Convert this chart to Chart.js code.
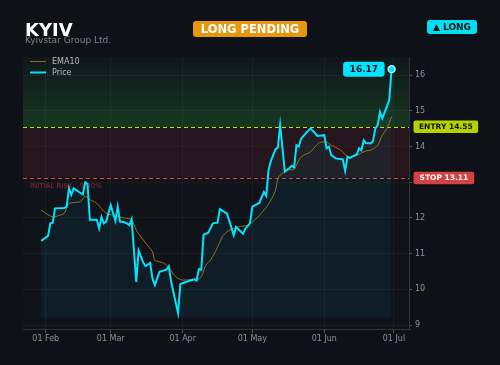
<!DOCTYPE html>
<html><head><meta charset="utf-8">
<script src="https://cdn.jsdelivr.net/npm/chart.js@4.4.1/dist/chart.umd.min.js"></script>
<style>
html,body{margin:0;padding:0;background:#0e1117;}
#wrap{position:relative;width:500px;height:365px;overflow:hidden;background:#0e1117;}
#c{position:absolute;left:0;top:0;}
.t{position:absolute;font-family:"DejaVu Sans",sans-serif;white-space:nowrap;}
.badge{position:absolute;font-family:"DejaVu Sans",sans-serif;font-weight:bold;white-space:nowrap;border-radius:3px;text-align:center;}
</style></head><body>
<div id="wrap">
<canvas id="c" width="500" height="365"></canvas>
<div class="t" style="left:25px;top:21px;font-size:18px;line-height:18px;font-weight:bold;color:#ffffff;">KYIV</div>
<div class="t" style="left:25px;top:36px;font-size:9px;line-height:9px;color:#7c828c;">Kyivstar Group Ltd.</div>
<div class="badge" style="left:193px;top:21px;width:114px;height:16px;line-height:16px;font-size:11.5px;background:#e8960c;color:#ffffff;">LONG PENDING</div>
<div class="badge" style="left:427px;top:20px;width:50px;height:14px;line-height:14px;font-size:9px;background:#00e0f0;color:#0e1117;">▲ LONG</div>
</div>
<script>
// ---- data ----
const priceDates = ['2025-01-30','2025-02-02','2025-02-03','2025-02-04','2025-02-05','2025-02-09','2025-02-10','2025-02-11','2025-02-12','2025-02-13',
'2025-02-16','2025-02-17','2025-02-18','2025-02-19','2025-02-20','2025-02-23','2025-02-24','2025-02-25','2025-02-26','2025-02-27',
'2025-03-01','2025-03-03','2025-03-04','2025-03-05','2025-03-07','2025-03-08','2025-03-09','2025-03-10','2025-03-12','2025-03-13',
'2025-03-15','2025-03-16','2025-03-18','2025-03-19','2025-03-20','2025-03-22','2025-03-25','2025-03-26','2025-03-27','2025-03-30',
'2025-03-31','2025-04-02','2025-04-06','2025-04-07','2025-04-08','2025-04-09','2025-04-10','2025-04-12','2025-04-14','2025-04-16',
'2025-04-17','2025-04-20','2025-04-21','2025-04-23','2025-04-24','2025-04-27','2025-04-28','2025-04-30','2025-05-01','2025-05-04',
'2025-05-06','2025-05-07','2025-05-08','2025-05-09','2025-05-11','2025-05-12','2025-05-13','2025-05-15','2025-05-17','2025-05-18',
'2025-05-19','2025-05-20','2025-05-21','2025-05-22','2025-05-24','2025-05-26','2025-05-28','2025-05-29','2025-06-01','2025-06-02',
'2025-06-03','2025-06-04','2025-06-06','2025-06-09','2025-06-10','2025-06-11','2025-06-12','2025-06-13','2025-06-15','2025-06-16',
'2025-06-17','2025-06-18','2025-06-19','2025-06-21','2025-06-22','2025-06-23','2025-06-24','2025-06-25','2025-06-26','2025-06-29','2025-06-30'];
const priceValues = [11.36,11.50,11.85,11.87,12.27,12.28,12.31,12.83,12.65,12.83,
12.70,12.66,13.00,12.95,11.95,11.95,11.71,12.03,11.85,11.90,
12.36,11.92,12.32,11.90,11.88,11.85,11.80,11.96,10.21,11.09,
10.75,10.65,10.74,10.30,10.12,10.49,10.55,10.65,10.22,9.34,
10.15,10.20,10.28,10.25,10.57,10.55,11.53,11.59,11.85,11.87,
12.25,12.13,11.94,11.52,11.75,11.56,11.70,11.85,12.32,12.42,
12.73,12.62,13.35,13.60,13.93,13.97,14.60,13.30,13.40,13.46,
13.42,14.04,14.00,14.22,14.37,14.51,14.38,14.30,14.32,13.95,
14.00,13.76,13.67,13.64,13.32,13.71,13.68,13.72,13.78,13.95,
13.90,14.18,14.10,14.09,14.15,14.51,14.60,14.97,14.79,15.30,16.17];
const emaDates = ['2025-01-30','2025-02-04','2025-02-07','2025-02-09','2025-02-11','2025-02-16','2025-02-18','2025-02-20','2025-02-23','2025-02-27',
'2025-03-02','2025-03-05','2025-03-07','2025-03-10','2025-03-12','2025-03-16','2025-03-19','2025-03-20','2025-03-24','2025-03-27',
'2025-03-28','2025-03-30','2025-04-01','2025-04-05','2025-04-07','2025-04-09','2025-04-11','2025-04-13','2025-04-16','2025-04-18',
'2025-04-19','2025-04-21','2025-04-25','2025-04-29','2025-05-02','2025-05-06','2025-05-09','2025-05-11','2025-05-12','2025-05-13',
'2025-05-16','2025-05-19','2025-05-20','2025-05-22','2025-05-26','2025-05-28','2025-05-30','2025-06-02','2025-06-04','2025-06-08',
'2025-06-11','2025-06-13','2025-06-15','2025-06-19','2025-06-21','2025-06-24','2025-06-26','2025-06-28','2025-06-30'];
const emaValues = [12.22,12.03,12.08,12.13,12.40,12.46,12.61,12.52,12.41,12.13,
12.08,12.03,12.00,11.96,11.66,11.30,11.05,10.82,10.73,10.54,
10.42,10.31,10.26,10.28,10.27,10.35,10.68,10.82,11.18,11.47,
11.55,11.66,11.75,11.80,11.94,12.22,12.50,12.78,13.11,13.20,
13.34,13.36,13.48,13.71,13.85,13.99,14.11,14.13,14.04,13.90,
13.73,13.71,13.76,13.88,13.90,14.04,14.32,14.51,14.84];
const monthTickDates = ['2025-02-01','2025-03-01','2025-04-01','2025-05-01','2025-06-01','2025-07-01'];
const monthTickLabels = ['01 Feb','01 Mar','01 Apr','01 May','01 Jun','01 Jul'];
const yTickValues = [9,10,11,12,13,14,15,16];
const ENTRY = 14.55;
const STOP = 13.11;
const LAST = 16.17;
const RISK_TEXT = 'INITIAL RISK: -9.90%';

// ---- helpers ----
const base = Date.UTC(2025,0,1);
const dayOf = s => (Date.parse(s + 'T00:00:00Z') - base) / 86400000;
const priceData = priceDates.map((d,i)=>({x:dayOf(d), y:priceValues[i]}));
const emaData = emaDates.map((d,i)=>({x:dayOf(d), y:emaValues[i]}));
const monthTicks = monthTickDates.map(dayOf);
const FONT = '"DejaVu Sans", sans-serif';
const CYAN = '#00e5ff';

function rrect(ctx,x,y,w,h,r){
  ctx.beginPath();
  ctx.moveTo(x+r,y);ctx.lineTo(x+w-r,y);ctx.quadraticCurveTo(x+w,y,x+w,y+r);
  ctx.lineTo(x+w,y+h-r);ctx.quadraticCurveTo(x+w,y+h,x+w-r,y+h);
  ctx.lineTo(x+r,y+h);ctx.quadraticCurveTo(x,y+h,x,y+h-r);
  ctx.lineTo(x,y+r);ctx.quadraticCurveTo(x,y,x+r,y);ctx.closePath();
}

const overlay = {
  id:'overlay',
  beforeDraw(chart){
    const {ctx, chartArea:a, scales:{y}} = chart;
    const yE = y.getPixelForValue(ENTRY), yS = y.getPixelForValue(STOP);
    ctx.save();
    ctx.fillStyle = 'rgba(255,255,255,0.012)';
    ctx.fillRect(a.left,a.top,a.right-a.left,a.bottom-a.top);
    const g = ctx.createLinearGradient(0,a.top,0,yE);
    g.addColorStop(0,'rgba(40,170,60,0.02)');
    g.addColorStop(1,'rgba(40,170,60,0.24)');
    ctx.fillStyle = g;
    ctx.fillRect(a.left,a.top,a.right-a.left,yE-a.top);
    ctx.fillStyle = 'rgba(215,50,60,0.10)';
    ctx.fillRect(a.left,yE,a.right-a.left,yS-yE);
    ctx.restore();
  },
  beforeDatasetsDraw(chart){
    const {ctx, chartArea:a, scales:{y}} = chart;
    const yE = Math.round(y.getPixelForValue(ENTRY))+0.5, yS = Math.round(y.getPixelForValue(STOP))+0.5;
    ctx.save();
    ctx.setLineDash([4,3]);
    ctx.lineWidth = 1;
    ctx.strokeStyle = '#cbe000';
    ctx.beginPath();ctx.moveTo(a.left,yE);ctx.lineTo(a.right,yE);ctx.stroke();
    ctx.strokeStyle = '#dc4444';
    ctx.beginPath();ctx.moveTo(a.left,yS);ctx.lineTo(a.right,yS);ctx.stroke();
    ctx.setLineDash([]);
    ctx.font = '7px ' + FONT;
    ctx.fillStyle = 'rgba(200,55,60,0.7)';
    ctx.textBaseline = 'alphabetic';
    ctx.textAlign = 'left';
    ctx.fillText(RISK_TEXT, a.left+7, yS+9);
    ctx.restore();
  },
  afterDraw(chart){
    const {ctx, chartArea:a, scales:{x,y}} = chart;
    ctx.save();
    // legend
    ctx.lineWidth = 1;
    ctx.strokeStyle = 'rgba(170,120,25,0.85)';
    ctx.beginPath();ctx.moveTo(30,61.5);ctx.lineTo(46,61.5);ctx.stroke();
    ctx.lineWidth = 2;
    ctx.strokeStyle = CYAN;
    ctx.beginPath();ctx.moveTo(30,72.5);ctx.lineTo(46,72.5);ctx.stroke();
    ctx.font = '8px ' + FONT;
    ctx.fillStyle = '#b4b9c2';
    ctx.textAlign = 'left';
    ctx.textBaseline = 'middle';
    ctx.fillText('EMA10', 52, 61.5);
    ctx.fillText('Price', 52, 72.5);
    // last point dot + label
    const lp = priceData[priceData.length-1];
    const px = x.getPixelForValue(lp.x), py = y.getPixelForValue(lp.y);
    ctx.beginPath();ctx.arc(px,py,3.5,0,Math.PI*2);
    ctx.fillStyle = CYAN;ctx.fill();
    ctx.lineWidth = 1.3;ctx.strokeStyle = '#d8fbff';ctx.stroke();
    ctx.font = 'bold 9px ' + FONT;
    const lt = LAST.toFixed(2);
    const lw = ctx.measureText(lt).width + 13;
    rrect(ctx, px-7-lw, py-7.5, lw, 15, 3);
    ctx.fillStyle = CYAN; ctx.fill();
    ctx.fillStyle = '#0e1117';
    ctx.textAlign = 'center';
    ctx.fillText(lt, px-7-lw/2, py+0.5);
    // entry / stop labels
    ctx.font = 'bold 7.5px ' + FONT;
    const yE = y.getPixelForValue(ENTRY), yS = y.getPixelForValue(STOP);
    const et = 'ENTRY ' + ENTRY.toFixed(2), st = 'STOP ' + STOP.toFixed(2);
    const ew = ctx.measureText(et).width + 11, sw = ctx.measureText(st).width + 12;
    rrect(ctx, a.right+4.5, yE-6.5, ew, 12.5, 2);
    ctx.fillStyle = '#b8d000'; ctx.fill();
    ctx.fillStyle = '#0e1117'; ctx.textAlign='center';
    ctx.fillText(et, a.right+4.5+ew/2, yE);
    rrect(ctx, a.right+4.5, yS-6.5, sw, 12.5, 2);
    ctx.fillStyle = '#d44141'; ctx.fill();
    ctx.fillStyle = '#ffffff';
    ctx.fillText(st, a.right+4.5+sw/2, yS);
    ctx.restore();
  }
};

new Chart(document.getElementById('c'), {
  type:'line',
  data:{datasets:[
    {label:'Price', data:priceData, borderColor:CYAN, borderWidth:2, pointRadius:0, tension:0,
     fill:{value:9.22}, backgroundColor:'rgba(0,229,255,0.06)', order:1},
    {label:'EMA10', data:emaData, borderColor:'rgba(175,125,25,0.85)', borderWidth:1, pointRadius:0,
     tension:0.3, fill:false, order:2}
  ]},
  options:{
    responsive:false, animation:false,
    layout:{padding:{left:23, top:57, right:0, bottom:0}},
    plugins:{legend:{display:false}, tooltip:{enabled:false}},
    scales:{
      x:{type:'linear', min:21.2, max:187.5,
         afterBuildTicks:s=>{s.ticks = monthTicks.map(v=>({value:v}));},
         afterFit:s=>{s.height = 36;},
         ticks:{callback:(v)=>{const i = monthTicks.indexOf(v); return i>=0 ? monthTickLabels[i] : '';},
                color:'#8d939c', font:{family:FONT, size:8}, padding:1, maxRotation:0, autoSkip:false},
         grid:{color:'rgba(255,255,255,0.045)', tickColor:'rgba(255,255,255,0.3)', tickLength:4, drawTicks:true},
         border:{color:'rgba(255,255,255,0.14)'}},
      y:{position:'right', min:8.89, max:16.51,
         afterBuildTicks:s=>{s.ticks = yTickValues.map(v=>({value:v}));},
         afterFit:s=>{s.width = 91;},
         ticks:{color:'#8d939c', font:{family:FONT, size:8}, padding:3},
         grid:{color:'rgba(255,255,255,0.045)', tickColor:'rgba(255,255,255,0.3)', tickLength:3, drawTicks:true},
         border:{color:'rgba(255,255,255,0.14)'}}
    }
  },
  plugins:[overlay]
});
</script>
</body></html>
